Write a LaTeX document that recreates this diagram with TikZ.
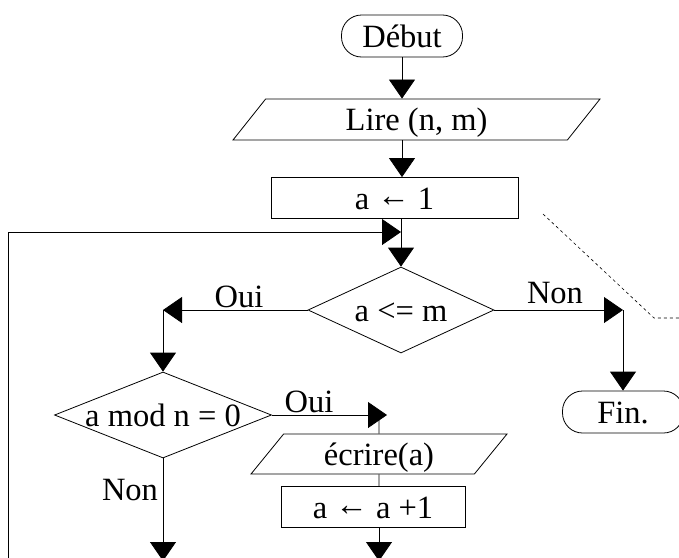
\documentclass[tikz,border=0pt]{standalone}
\usepackage{fontspec}
\setmainfont{Liberation Serif}
\usetikzlibrary{shapes, arrows.meta, positioning}

\newcommand{\getsarrow}{\raisebox{3pt}{←}}

\begin{document}
\begin{tikzpicture}
  [x=1pt, y=-1pt,
   every node/.style = {font=\fontsize{32.5}{38}\selectfont, inner sep=0pt},
   box/.style = {draw, line width=0.8pt, text height=22pt, text depth=0pt},
   terminal/.style = {box, rectangle, rounded corners=20pt,
     minimum width=121pt, minimum height=42pt},
   io/.style = {box, trapezium, trapezium left angle=34, trapezium right angle=146,
     trapezium stretches body, minimum height=41pt},
   process/.style = {box, rectangle, minimum height=41pt},
   test/.style = {box, diamond, aspect=2.5, minimum height=86pt},
   arr/.style = {-{Triangle[length=19pt, width=26pt]}, line width=0.8pt},
   link/.style = {line width=0.8pt}
  ]
  \useasboundingbox (0,0) rectangle (679,557);

  % boxes
  \node(debut) [terminal] at (402,36) {Début};
  \node(lire) [io, minimum width=367pt] at (416.5,119.5) {Lire (n, m)};
  \node(init) [process, minimum width=247pt] at (394.5,198) {a \getsarrow{} 1};
  \node(cond) [test, minimum width=186pt] at (401,310) {a <= m};
  \node(mod) [test, minimum width=217pt] at (163,415) {a mod n = 0};
  \node(fin) [terminal] at (623,412) {Fin.};
  \node(ecrire) [io, minimum width=256pt, minimum height=40pt] at (379,454) {écrire(a)};
  \node(incr) [process, minimum width=184pt] at (373,507) {a \getsarrow{} a +1};

  % labels
  \node(oui1) at (239,297) {Oui};
  \node(non1) at (555,293) {Non};
  \node(oui2) at (309,402) {Oui};
  \node(non2) at (130,490) {Non};

  \coordinate (loopin) at (8,560);
  \coordinate (join) at (401,232);
  \coordinate (yes1) at (163,310);
  \coordinate (no1) at (623,310);
  \coordinate (yes2) at (387,415);
  \coordinate (out1) at (163,561);
  \coordinate (out2) at (379,561);
  \coordinate (d1) at (543,214);
  \coordinate (d2) at (654,318);
  \coordinate (d3) at (679,318);

  % connectors
  \draw[arr] (debut) -- (lire.north -| debut);
  \draw[arr] (lire.south -| debut) -- (init.north -| debut);
  \draw[arr] (init.south -| cond) -- (cond);
  \draw[arr] (loopin) |- (join);
  \draw[arr] (cond.west) -- (yes1);
  \draw[arr] (yes1) -- (mod);
  \draw[arr] (cond.east) -- (no1);
  \draw[arr] (no1) -- (fin);
  \draw[arr] (mod.east) -- (yes2);
  \draw[link] (yes2 -| ecrire) -- (ecrire.north);
  \draw[link] (ecrire.south) -- (incr.north -| ecrire);
  \draw[arr] (incr.south -| ecrire) -- (out2);
  \draw[arr] (mod.south) -- (out1);
  \draw[dashed, dash pattern=on 3pt off 3pt, line width=0.6pt] (d1) -- (d2) -- (d3);
\end{tikzpicture}
\end{document}
